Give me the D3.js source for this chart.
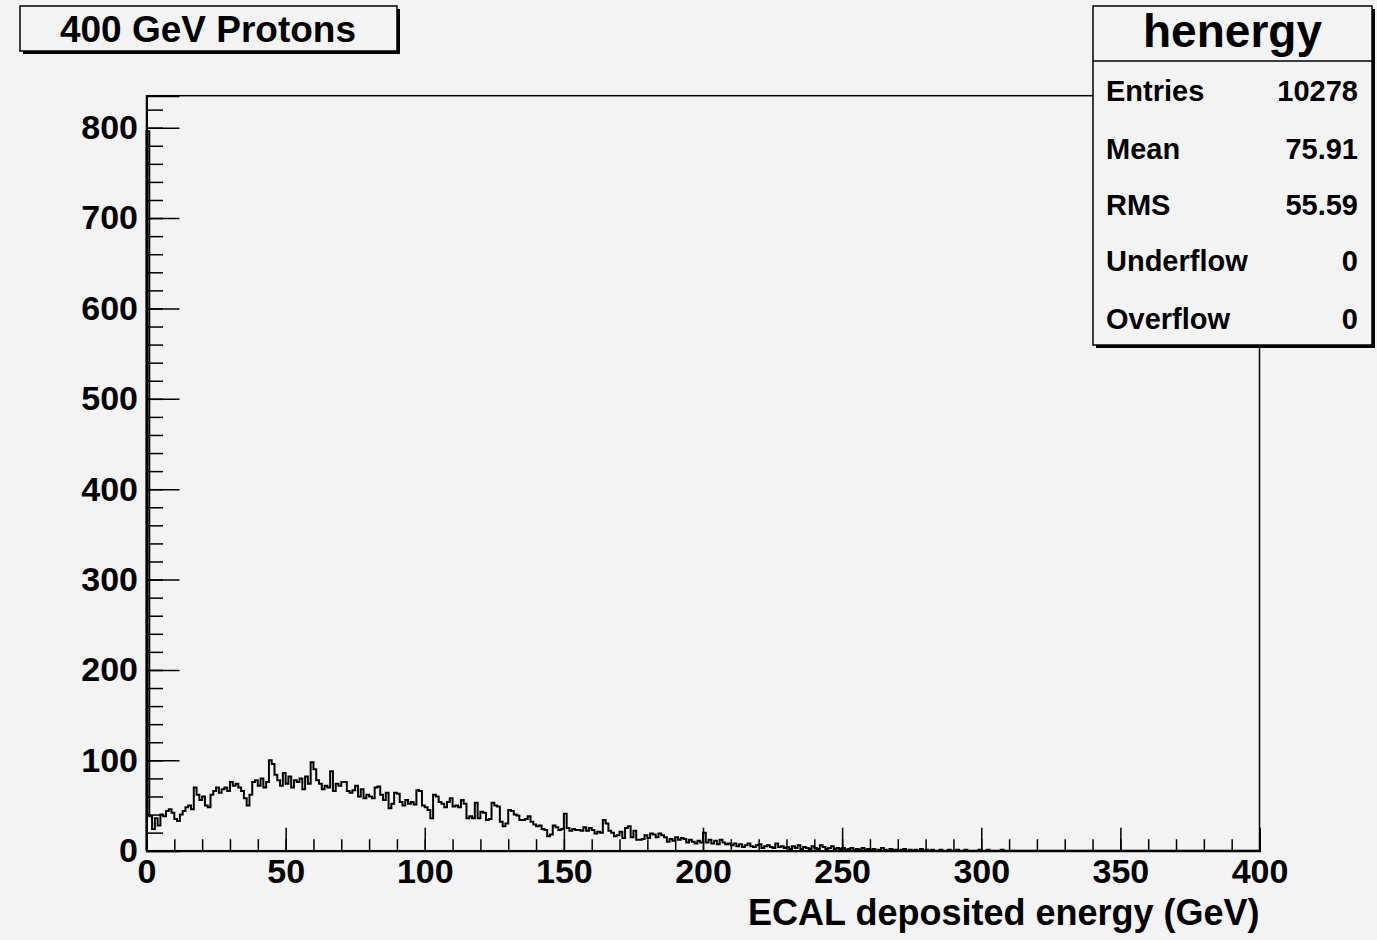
<!DOCTYPE html>
<html>
<head>
<meta charset="utf-8">
<script src="https://cdn.jsdelivr.net/npm/d3@7"></script>
<style>
  body { margin: 0; background: #f3f3f3; }
  svg { display: block; }
  text { font-family: "Liberation Sans", Arial, Helvetica, sans-serif; font-weight: bold; fill: #000; }
</style>
</head>
<body>
<div id="chart"></div>
<script>
// histogram contents, 1 GeV per bin, 0..400 GeV
var counts = [
  796, 38, 24, 36, 28, 40, 38, 44, 46, 42,
  35, 33, 40, 44, 48, 50, 46, 70, 62, 56,
  60, 50, 48, 62, 66, 70, 64, 68, 70, 66,
  76, 72, 74, 70, 66, 58, 50, 62, 76, 78,
  72, 80, 70, 76, 100, 96, 84, 78, 72, 86,
  74, 82, 70, 78, 76, 80, 68, 82, 74, 98,
  90, 78, 74, 68, 72, 70, 88, 66, 74, 72,
  76, 76, 66, 64, 67, 72, 60, 68, 58, 62,
  60, 58, 70, 71, 62, 56, 64, 47, 52, 64,
  63, 54, 50, 56, 52, 54, 51, 67, 66, 50,
  48, 45, 36, 62, 60, 54, 52, 48, 54, 58,
  49, 50, 48, 56, 52, 36, 38, 36, 53, 36,
  43, 42, 34, 35, 53, 50, 49, 32, 27, 30,
  45, 44, 40, 39, 34, 34, 35, 38, 32, 29,
  27, 28, 24, 23, 16, 18, 28, 26, 23, 24,
  41, 25, 22, 24, 23, 23, 22, 26, 22, 25,
  23, 19, 21, 20, 34, 30, 22, 20, 16, 17,
  21, 14, 25, 27, 15, 22, 12, 12, 13, 17,
  14, 19, 18, 15, 19, 17, 15, 10, 13, 11,
  15, 12, 14, 13, 9, 12, 10, 8, 11, 9,
  20, 9, 12, 8, 11, 7, 12, 9, 7, 8,
  6, 8, 5, 7, 4, 6, 8, 5, 4, 6,
  7, 3, 5, 6, 4, 3, 8, 4, 5, 3,
  4, 2, 5, 3, 6, 2, 4, 3, 2, 5,
  3, 2, 6, 4, 2, 3, 5, 2, 3, 2,
  3, 1, 2, 3, 1, 2, 1, 3, 1, 2,
  1, 2, 0, 1, 3, 1, 0, 2, 1, 1,
  0, 1, 2, 0, 1, 0, 1, 0, 2, 0,
  1, 0, 1, 0, 0, 1, 0, 0, 1, 0,
  0, 1, 0, 0, 1, 0, 0, 0, 0, 1,
  0, 0, 1, 0, 0, 0, 0, 1, 0, 0,
  0, 0, 0, 0, 0, 0, 0, 0, 0, 0,
  0, 0, 0, 0, 0, 0, 0, 0, 0, 0,
  0, 0, 0, 0, 0, 0, 0, 0, 0, 0,
  0, 0, 0, 0, 0, 0, 0, 0, 0, 0,
  0, 0, 0, 0, 0, 0, 0, 0, 0, 0,
  0, 0, 0, 0, 0, 0, 0, 0, 0, 0,
  0, 0, 0, 0, 0, 0, 0, 0, 0, 0,
  0, 0, 0, 0, 0, 0, 0, 0, 0, 0,
  0, 0, 0, 0, 0, 0, 0, 0, 0, 0
];
var xMajor = [0, 50, 100, 150, 200, 250, 300, 350, 400];
var yMajor = [0, 100, 200, 300, 400, 500, 600, 700, 800];
var xMinor = [0, 10, 20, 30, 40, 50, 60, 70, 80, 90, 100, 110, 120, 130, 140, 150, 160, 170, 180, 190,
  200, 210, 220, 230, 240, 250, 260, 270, 280, 290, 300, 310, 320, 330, 340, 350, 360, 370, 380, 390, 400];
var yMinor = [0, 20, 40, 60, 80, 100, 120, 140, 160, 180, 200, 220, 240, 260, 280, 300, 320, 340, 360, 380,
  400, 420, 440, 460, 480, 500, 520, 540, 560, 580, 600, 620, 640, 660, 680, 700, 720, 740, 760, 780, 800, 820];
var title = "400 GeV Protons";
var xTitle = "ECAL deposited energy (GeV)";
var statsName = "henergy";
var statLabels = ["Entries", "Mean", "RMS", "Underflow", "Overflow"];
var statValues = ["10278", "75.91", "55.59", "0", "0"];

var W = 1377, H = 940;
var frame = { left: 146.5, right: 1259.5, top: 95.7, bottom: 850.7 };
var yMax = 835.4;

var svg = d3.select("#chart").append("svg")
  .attr("width", W).attr("height", H);

svg.append("rect").attr("width", W).attr("height", H).attr("fill", "#f3f3f3");

var x = d3.scaleLinear().domain([0, 400]).range([frame.left, frame.right]);
var y = d3.scaleLinear().domain([0, yMax]).range([frame.bottom, frame.top]);

// frame
svg.append("rect")
  .attr("x", frame.left).attr("y", frame.top)
  .attr("width", frame.right - frame.left).attr("height", frame.bottom - frame.top)
  .attr("fill", "none").attr("stroke", "#000").attr("stroke-width", 1.5);

// histogram, step outline
var pts = [[0, 0]];
counts.forEach(function (c, i) { pts.push([i, c]); });
pts.push([400, 0]);
var line = d3.line()
  .x(function (d) { return x(d[0]); })
  .y(function (d) { return y(d[1]); })
  .curve(d3.curveStepAfter);
svg.append("path").datum(pts)
  .attr("d", line)
  .attr("fill", "none").attr("stroke", "#000").attr("stroke-width", 2);

// axes
var gx = svg.append("g").attr("transform", "translate(0," + frame.bottom + ")");
gx.call(d3.axisBottom(x).tickValues(xMinor).tickSize(-11.5).tickFormat(""));
gx.call(function (g) { g.select(".domain").remove(); });
var gx2 = svg.append("g").attr("transform", "translate(0," + frame.bottom + ")");
gx2.call(d3.axisBottom(x).tickValues(xMajor).tickSize(-23).tickPadding(8).tickFormat(d3.format("d")));
gx2.selectAll("text").style("font-size", "34px").attr("font-family", null);

var gy = svg.append("g").attr("transform", "translate(" + frame.left + ",0)");
gy.call(d3.axisLeft(y).tickValues(yMinor).tickSize(-16.5).tickFormat(""));
gy.call(function (g) { g.select(".domain").remove(); });
var gy2 = svg.append("g").attr("transform", "translate(" + frame.left + ",0)");
gy2.call(d3.axisLeft(y).tickValues(yMajor).tickSize(-33).tickPadding(8.5).tickFormat(d3.format("d")));
gy2.selectAll("text").style("font-size", "34px").attr("font-family", null);

[gx, gx2, gy, gy2].forEach(function (g) {
  g.attr("font-family", null).attr("font-size", null);
  g.selectAll(".domain").attr("stroke", "#000").attr("stroke-width", 2);
  g.selectAll(".tick line").attr("stroke", "#000").attr("stroke-width", 1.5);
});

svg.append("text")
  .attr("x", frame.right).attr("y", 925)
  .attr("text-anchor", "end")
  .style("font-size", "36px")
  .text(xTitle);

// boxes with a ROOT style shadow
function box(x0, y0, w, h) {
  svg.append("rect").attr("x", x0 + 3).attr("y", y0 + 3).attr("width", w).attr("height", h).attr("fill", "#000");
  svg.append("rect").attr("x", x0).attr("y", y0).attr("width", w).attr("height", h)
    .attr("fill", "#f3f3f3").attr("stroke", "#000").attr("stroke-width", 1.5);
}

box(20, 6, 377, 45);
svg.append("text")
  .attr("x", 208).attr("y", 42)
  .attr("text-anchor", "middle")
  .style("font-size", "37px")
  .text(title);

var sx = 1093, sy = 6, sw = 279, sh = 339;
box(sx, sy, sw, sh);
svg.append("line")
  .attr("x1", sx).attr("x2", sx + sw).attr("y1", 61).attr("y2", 61)
  .attr("stroke", "#000").attr("stroke-width", 1.5);
svg.append("text")
  .attr("x", sx + sw / 2).attr("y", 47)
  .attr("text-anchor", "middle")
  .style("font-size", "46px")
  .text(statsName);

var rowY = [91, 149, 205, 261, 319];
statLabels.forEach(function (l, i) {
  svg.append("text").attr("x", 1106).attr("y", rowY[i] + 10)
    .style("font-size", "29px").text(l);
  svg.append("text").attr("x", 1358).attr("y", rowY[i] + 10)
    .attr("text-anchor", "end")
    .style("font-size", "29px").text(statValues[i]);
});
</script>
</body>
</html>
